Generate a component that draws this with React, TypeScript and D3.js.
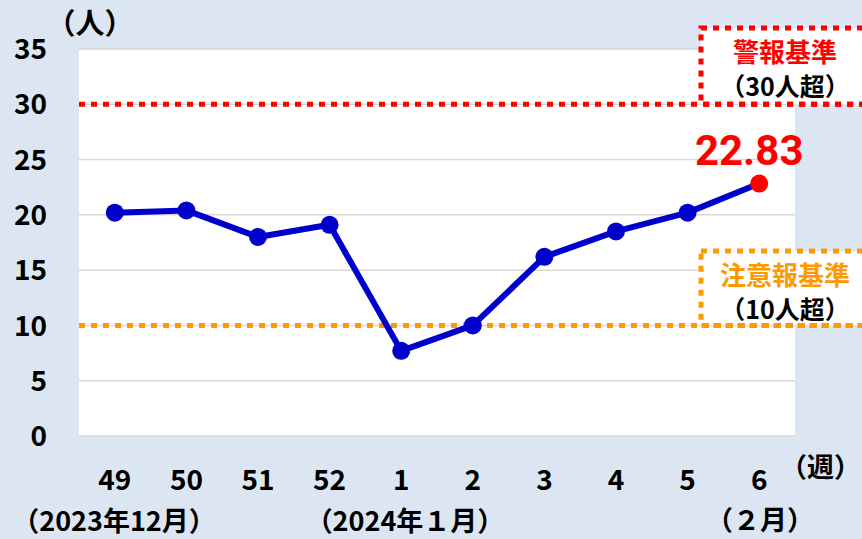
import { useRef, useEffect } from "react";
import * as d3 from "d3";

// week labels and weekly values (people per sentinel)
const weeks = ["49", "50", "51", "52", "1", "2", "3", "4", "5", "6"];
const values = [20.2, 20.4, 18.0, 19.1, 7.7, 10.0, 16.2, 18.5, 20.2, 22.83];
const yTicks = [0, 5, 10, 15, 20, 25, 30, 35];
const warningLevel = 30;
const advisoryLevel = 10;

const FONT = "'Noto Sans CJK JP', 'Noto Sans', sans-serif";

const App = () => {
  const svgRef = useRef<SVGSVGElement | null>(null);

  useEffect(() => {
    const width = 862;
    const height = 539;
    const margin = { top: 49, right: 67, bottom: 103, left: 79 };

    const svg = d3.select(svgRef.current);
    svg.selectAll("*").remove();

    svg.append("rect").attr("width", width).attr("height", height).attr("fill", "#dce6f2");

    const x = d3.scaleBand<string>()
      .domain(weeks)
      .range([margin.left, width - margin.right]);
    const y = d3.scaleLinear().domain([0, 35]).range([height - margin.bottom, margin.top]);
    const cx = (w: string) => (x(w) as number) + x.bandwidth() / 2;

    // plot area
    svg.append("rect")
      .attr("x", margin.left).attr("y", margin.top)
      .attr("width", width - margin.left - margin.right)
      .attr("height", height - margin.top - margin.bottom)
      .attr("fill", "#fff");

    // grid
    svg.append("g").selectAll("line").data(yTicks).join("line")
      .attr("x1", margin.left).attr("x2", width - margin.right)
      .attr("y1", d => y(d)).attr("y2", d => y(d))
      .attr("stroke", "#d9d9d9").attr("stroke-width", 1.5);

    // y tick labels
    svg.append("g").selectAll("text").data(yTicks).join("text")
      .attr("x", 47).attr("y", d => y(d)).attr("dy", "0.36em")
      .attr("text-anchor", "end")
      .attr("font-family", FONT).attr("font-weight", "bold").attr("font-size", 28)
      .attr("fill", "#000").text(d => d);

    // x tick labels
    svg.append("g").selectAll("text").data(weeks).join("text")
      .attr("x", d => cx(d)).attr("y", 490)
      .attr("text-anchor", "middle")
      .attr("font-family", FONT).attr("font-weight", "bold").attr("font-size", 28)
      .attr("fill", "#000").text(d => d);

    const txt = (tx: number, ty: number, s: string, size: number, fill = "#000", anchor = "middle") =>
      svg.append("text").attr("x", tx).attr("y", ty).attr("text-anchor", anchor)
        .attr("font-family", FONT).attr("font-weight", "bold").attr("font-size", size)
        .attr("fill", fill).text(s);

    txt(90, 34, "（人）", 29);
    txt(861, 477, "（週）", 27, "#000", "end");
    txt(114, 531, "（2023年12月）", 27);
    txt(405, 531, "（2024年１月）", 27);
    txt(760, 530, "（２月）", 27);

    // reference boxes and lines
    const refBox = (level: number, top: number, color: string, title: string, sub: string) => {
      const yl = y(level);
      svg.append("rect")
        .attr("x", 701).attr("y", top).attr("width", 170).attr("height", yl - top)
        .attr("fill", "#fff").attr("stroke", color).attr("stroke-width", 5)
        .attr("stroke-dasharray", "6,6");
      svg.append("line")
        .attr("x1", margin.left).attr("x2", width)
        .attr("y1", yl).attr("y2", yl)
        .attr("stroke", color).attr("stroke-width", 5).attr("stroke-dasharray", "6,6");
      txt(785, top + 34, title, 26, color);
      txt(785, top + 68, sub, 25);
    };
    refBox(warningLevel, 28, "#ff0000", "警報基準", "（30人超）");
    refBox(advisoryLevel, 251, "#ff9900", "注意報基準", "（10人超）");

    // series line
    const line = d3.line<number>().x((_, i) => cx(weeks[i])).y(d => y(d));
    svg.append("path").datum(values)
      .attr("d", line).attr("fill", "none")
      .attr("stroke", "#0000cc").attr("stroke-width", 6).attr("stroke-linejoin", "round");

    svg.append("g").selectAll("circle").data(values).join("circle")
      .attr("cx", (_, i) => cx(weeks[i])).attr("cy", d => y(d)).attr("r", 9)
      .attr("fill", (_, i) => (i === values.length - 1 ? "#ff0000" : "#0000cc"));

    const last = values[values.length - 1];
    svg.append("text")
      .attr("x", cx(weeks[weeks.length - 1]) - 10).attr("y", y(last) - 19)
      .attr("text-anchor", "middle")
      .attr("font-family", "Roboto, sans-serif").attr("font-weight", "bold").attr("font-size", 42)
      .attr("fill", "#ff0000").text(last.toFixed(2));
  }, []);

  return <svg ref={svgRef} width={862} height={539} style={{ position: "absolute", left: 0, top: 0 }} />;
};

export default App;
